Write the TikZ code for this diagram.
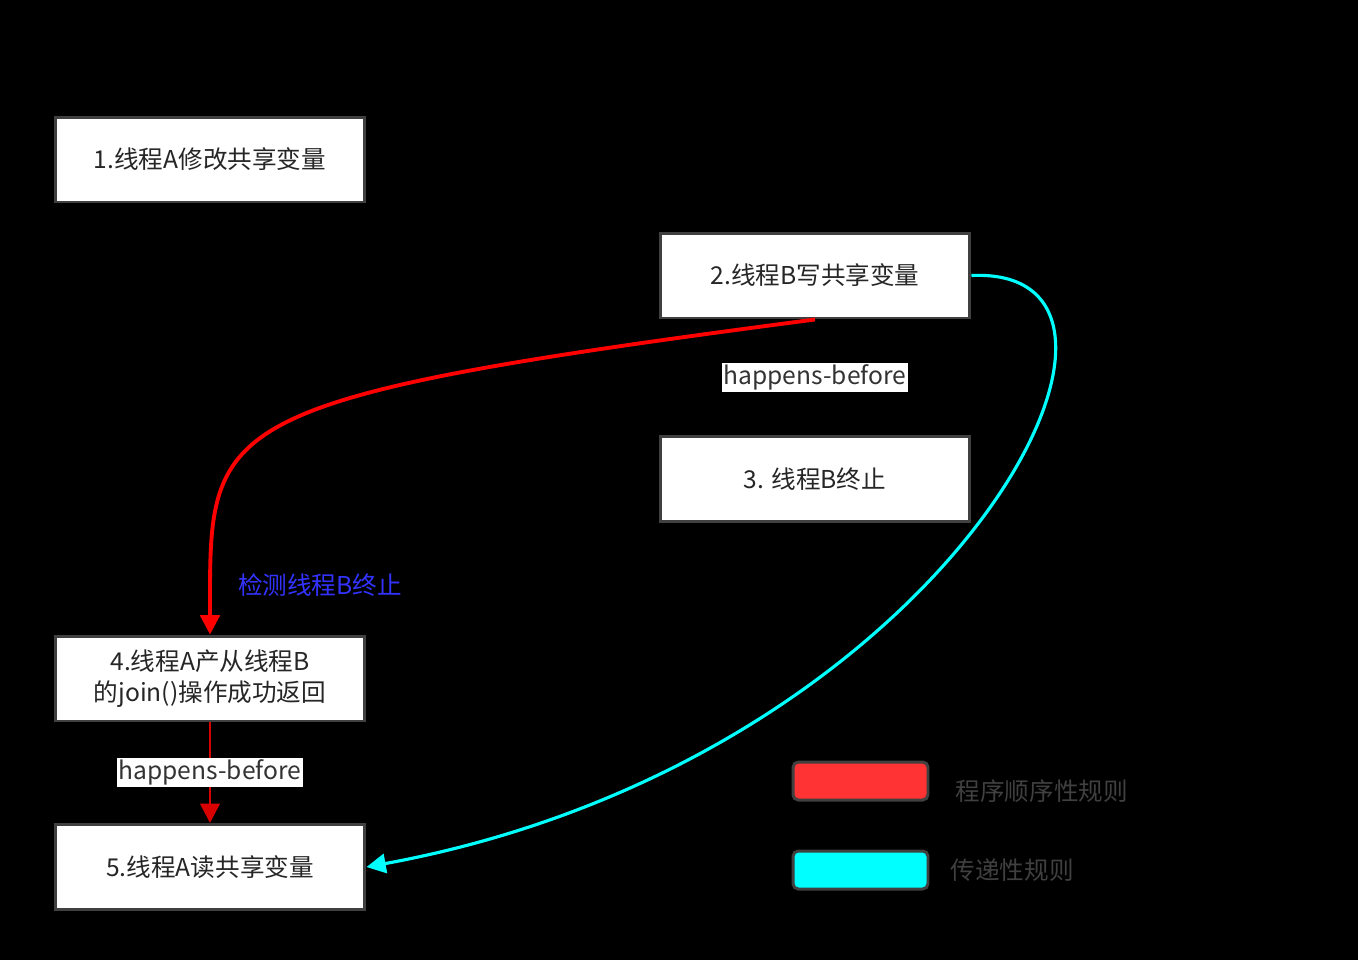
\documentclass[tikz,border=0pt]{standalone}
\usepackage{fontspec}
\setmainfont{Noto Sans CJK SC}
\usetikzlibrary{arrows.meta,positioning}
\definecolor{ruleRed}{RGB}{255,0,0}
\definecolor{ruleCyan}{RGB}{0,255,255}
\definecolor{legendRed}{RGB}{255,51,51}
\definecolor{detectBlue}{RGB}{51,51,255}

\begin{document}
\begin{tikzpicture}[
    x=0.02cm, y=-0.02cm,
    font=\fontsize{14}{18}\selectfont,
    stepbox/.style={rectangle, draw=black!75, line width=1.7pt, fill=white, minimum width=6.2cm, minimum height=1.7cm, align=center, text=black!85},
    hblabel/.style={fill=white, inner sep=1pt, text=black!80},
    legendbox/.style={rectangle, rounded corners=3pt, draw=black!75, line width=1.7pt, minimum width=2.7cm, minimum height=0.76cm},
    arrow/.style={-{Triangle[length=11pt,width=11pt]}, line width=2.2pt}
]
    \fill[black] (0,0) rectangle (1358,960);

    % Steps
    \node[stepbox] (writeA) at (210,159.5) {1.线程A修改共享变量};
    \node[stepbox] (writeB) at (815,275.5) {2.线程B写共享变量};
    \node[stepbox] (endB) at (815,479) {3. 线程B终止};
    \node[stepbox] (joinA) at (210,678.5) {4.线程A产从线程B\\的join()操作成功返回};
    \node[stepbox] (readA) at (210,867) {5.线程A读共享变量};

    % Connectors
    \draw[black, thin] (writeB) -- node[hblabel] {happens-before} (endB);
    \draw[arrow, ruleRed] (writeB.south) .. controls (200,400) and (210,420) .. (joinA.north);
    \draw[arrow, ruleRed!85!black, line width=1.6pt] (joinA) -- node[hblabel] {happens-before} (readA);
    \draw[arrow, ruleCyan, line width=1.8pt] (writeB.east) .. controls (1200,265) and (950,760) .. (readA.east);
    \node[text=detectBlue] (detect) at (320,585) {检测线程B终止};

    % Legend
    \node[legendbox, fill=legendRed] (legRed) at (860.5,781) {};
    \node[legendbox, fill=ruleCyan] (legCyan) at (860.5,870) {};
    \node[right=0.4cm of legRed, yshift=-0.2cm, text=black!75] (legRedText) {程序顺序性规则};
    \node[right=0.3cm of legCyan, text=black!75] (legCyanText) {传递性规则};
\end{tikzpicture}
\end{document}
